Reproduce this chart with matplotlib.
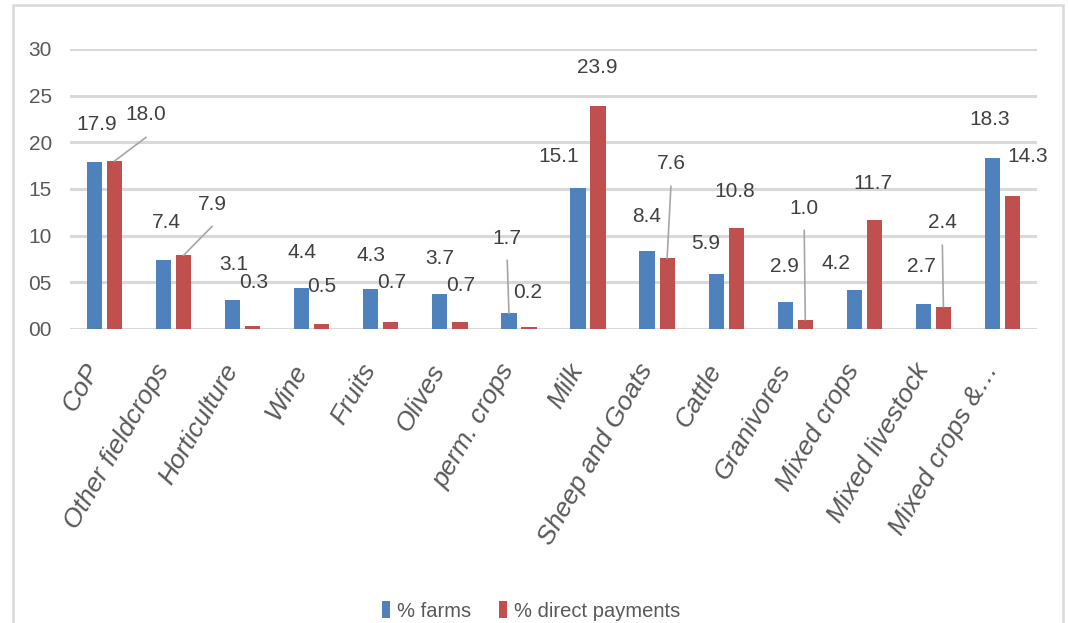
import numpy as np
import matplotlib.pyplot as plt
from matplotlib.patches import Rectangle

plt.rcParams['font.family'] = ['Liberation Sans', 'DejaVu Sans']

# farm types and shares (%)
categories = ['CoP', 'Other fieldcrops', 'Horticulture', 'Wine', 'Fruits', 'Olives',
              'perm. crops', 'Milk', 'Sheep and Goats', 'Cattle', 'Granivores',
              'Mixed crops', 'Mixed livestock', 'Mixed crops &\u2026']
farms = [17.9, 7.4, 3.1, 4.4, 4.3, 3.7, 1.7, 15.1, 8.4, 5.9, 2.9, 4.2, 2.7, 18.3]
payments = [18.0, 7.9, 0.3, 0.5, 0.7, 0.7, 0.2, 23.9, 7.6, 10.8, 1.0, 11.7, 2.4, 14.3]
yticks = [0, 5, 10, 15, 20, 25, 30]

# hand-placed data label offsets (x in category units, y above bar top)
farms_dx = [-0.12, -0.11, -0.125, -0.14, -0.14, -0.14, -0.17, -0.43, -0.15, -0.29, -0.16, -0.41, -0.18, -0.18]
farms_dy = [3.96, 3.96, 3.76, 3.85, 3.6, 3.9, 8.05, 3.33, 3.7, 3.3, 3.85, 2.87, 4.05, 4.1]
pay_dx = [0.60, 0.556, 0.165, 0.15, 0.16, 0.15, 0.13, 0.14, 0.2, 0.13, 0.13, 0.13, 0.13, 0.37]
pay_dy = [4.93, 5.49, 4.63, 4.0, 4.23, 4.0, 3.66, 4.17, 10.08, 3.88, 11.96, 3.94, 8.96, 4.13]
farms_leader = [6]
pay_leader = [0, 1, 8, 10, 12]

blue = '#4f81bd'
red = '#c0504d'
grid_col = '#d9d9d9'
txt_col = '#404040'

fig = plt.figure(figsize=(10.69, 6.23), dpi=100)
ax = fig.add_axes([70 / 1069, 1 - 329 / 623, 967 / 1069, 280 / 623])

x = np.arange(len(categories))
w = 0.22
off = 0.145
ax.bar(x - off, farms, w, color=blue, zorder=3, label='% farms')
ax.bar(x + off, payments, w, color=red, zorder=3, label='% direct payments')

ax.set_xlim(-0.5, len(categories) - 0.5)
ax.set_ylim(0, 30)
ax.set_yticks(yticks)
ax.set_yticklabels(['%02d' % v for v in yticks])
ax.yaxis.grid(True, color=grid_col, linewidth=2.2, zorder=0)
ax.set_axisbelow(True)
for s in ax.spines.values():
    s.set_visible(False)
ax.tick_params(axis='both', length=0, colors='#595959', labelsize=15)
ax.tick_params(axis='y', pad=13)
ax.tick_params(axis='x', pad=22)
ax.set_xticks(x)
ax.set_xticklabels(categories, rotation=60, ha='right', va='top',
                   fontstyle='italic', fontsize=19)


def put_labels(vals, xpos, dx, dy, leaders):
    for i, v in enumerate(vals):
        lx = x[i] + dx[i]
        ly = v + dy[i]
        ax.text(lx, ly, '%.1f' % v, ha='center', va='center', fontsize=15,
                color=txt_col, zorder=5, clip_on=False)
        if i in leaders:
            ax.plot([xpos[i], lx], [v, ly - 2.4], color='#a6a6a6', lw=1.2,
                    zorder=4, clip_on=False)


put_labels(farms, x - off, farms_dx, farms_dy, farms_leader)
put_labels(payments, x + off, pay_dx, pay_dy, pay_leader)

leg = fig.legend(loc='center', bbox_to_anchor=(531 / 1069, 1 - 611 / 623),
                 ncol=2, frameon=False, fontsize=14.5, handlelength=0.4,
                 handleheight=0.9, handletextpad=0.35, columnspacing=1.4,
                 borderpad=0)
for t in leg.get_texts():
    t.set_color('#595959')

# chart area border
fig.patches.append(Rectangle((13 / 1069, -0.05), 1050 / 1069, 1.05 - 5 / 623,
                             transform=fig.transFigure, fill=False,
                             edgecolor=grid_col, linewidth=1.8))

fig.savefig('out.png', dpi=100)
